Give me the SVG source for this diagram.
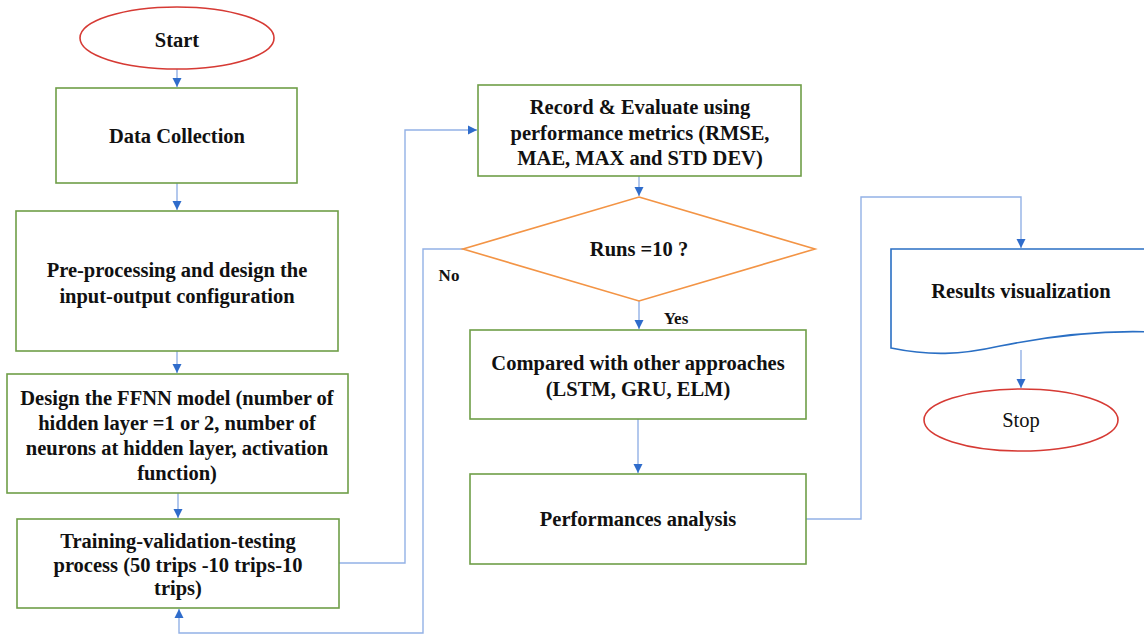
<svg xmlns="http://www.w3.org/2000/svg" width="1144" height="636" viewBox="0 0 1144 636">
<style>
.box{fill:#fff;stroke:#6f9e48;stroke-width:1.6}
.term{fill:#fff;stroke:#d63a34;stroke-width:1.6}
.dec{fill:#fff;stroke:#f39445;stroke-width:1.6}
.doc{fill:#fff;stroke:#2a6fc4;stroke-width:1.6}
text{font-family:'Liberation Serif','DejaVu Serif',serif}
.t{font-size:20.5px;font-weight:bold;fill:#111;text-anchor:middle}
.n{font-weight:normal}
.s{font-size:17px}
.c{fill:none;stroke:#93b1e6;stroke-width:1.4}
</style>
<defs>
<marker id="ah" markerWidth="10" markerHeight="10" refX="9" refY="5" orient="auto" markerUnits="userSpaceOnUse">
<path d="M0,0.5 L9,5 L0,9.5 Z" fill="#2f6ccb"/>
</marker>
</defs>
<g id="connectors">
<path class="c" d="M177,69 V87" marker-end="url(#ah)"/>
<path class="c" d="M177,183 V210" marker-end="url(#ah)"/>
<path class="c" d="M177,351 V373" marker-end="url(#ah)"/>
<path class="c" d="M178,493 V518" marker-end="url(#ah)"/>
<path class="c" d="M339,563 H405 V130 H477" marker-end="url(#ah)"/>
<path class="c" d="M639,176 V196" marker-end="url(#ah)"/>
<path class="c" d="M463,249 H423 V633 H179 V609" marker-end="url(#ah)"/>
<path class="c" d="M639,301 V329" marker-end="url(#ah)"/>
<path class="c" d="M638,419 V473" marker-end="url(#ah)"/>
<path class="c" d="M806,519 H861 V197 H1021 V248" marker-end="url(#ah)"/>
<path class="c" d="M1021,350 V388" marker-end="url(#ah)"/>
<text class="t s" x="449" y="281">No</text>
<text class="t s" x="676" y="324">Yes</text>
</g>
<g id="start">
<ellipse class="term" cx="177" cy="38" rx="97" ry="31"/>
<text class="t" x="177" y="47">Start</text>
</g>
<g id="data-collection">
<rect class="box" x="56" y="88" width="241" height="95"/>
<text class="t" x="177" y="143">Data Collection</text>
</g>
<g id="preprocessing">
<rect class="box" x="16" y="211" width="322" height="140"/>
<text class="t" x="177" y="277">Pre-processing and design the</text>
<text class="t" x="177" y="303">input-output configuration</text>
</g>
<g id="design-ffnn">
<rect class="box" x="7" y="374" width="341" height="119"/>
<text class="t" x="177" y="405">Design the FFNN model (number of</text>
<text class="t" x="177" y="430">hidden layer =1 or 2, number of</text>
<text class="t" x="177" y="455">neurons at hidden layer, activation</text>
<text class="t" x="177" y="480">function)</text>
</g>
<g id="training">
<rect class="box" x="17" y="519" width="322" height="89"/>
<text class="t" x="178" y="548">Training-validation-testing</text>
<text class="t" x="178" y="572">process (50 trips -10 trips-10</text>
<text class="t" x="178" y="595">trips)</text>
</g>
<g id="record">
<rect class="box" x="478" y="85" width="323" height="91"/>
<text class="t" x="640" y="114">Record &amp; Evaluate using</text>
<text class="t" x="640" y="140">performance metrics (RMSE,</text>
<text class="t" x="640" y="165">MAE, MAX and STD DEV)</text>
</g>
<g id="decision">
<path class="dec" d="M639,197 L815,249 L639,301 L463,249 Z"/>
<text class="t" x="639" y="256">Runs =10 ?</text>
</g>
<g id="compare">
<rect class="box" x="470" y="330" width="336" height="89"/>
<text class="t" x="638" y="370">Compared with other approaches</text>
<text class="t" x="638" y="396">(LSTM, GRU, ELM)</text>
</g>
<g id="performances">
<rect class="box" x="470" y="474" width="336" height="90"/>
<text class="t" x="638" y="526">Performances analysis</text>
</g>
<g id="results">
<path class="doc" d="M891,348 V249 H1152 V332 C1100,330 1050,336 1000,346 C960,355 930,356 891,348 Z"/>
<text class="t" x="1021" y="298">Results visualization</text>
</g>
<g id="stop">
<ellipse class="term" cx="1021" cy="420" rx="97" ry="31"/>
<text class="t n" x="1021" y="427">Stop</text>
</g>
</svg>
